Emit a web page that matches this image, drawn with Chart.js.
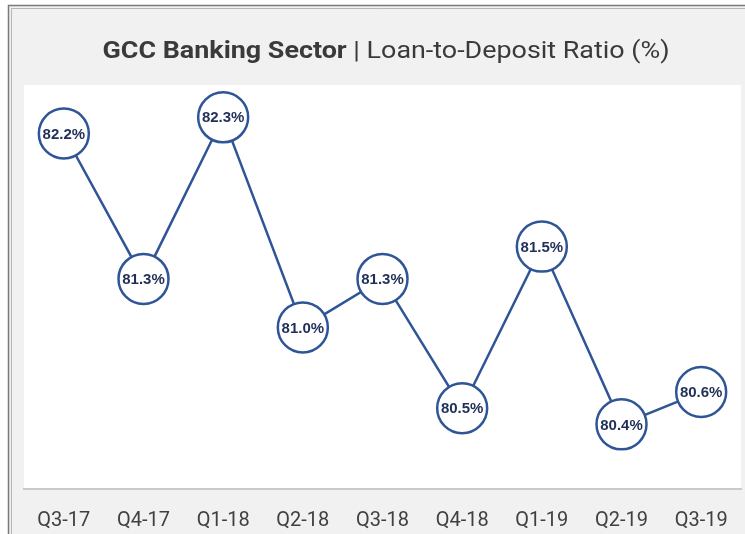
<!DOCTYPE html>
<html>
<head>
<meta charset="utf-8">
<script src="https://cdn.jsdelivr.net/npm/chart.js@4/dist/chart.umd.min.js"></script>
<style>
  html, body { margin: 0; padding: 0; background: #ffffff; }
  #wrap { width: 745px; height: 534px; position: relative; }
</style>
</head>
<body>
<div id="wrap"><canvas id="ldr" width="745" height="534"></canvas></div>
<script>
// Quarterly loan-to-deposit ratio of the GCC banking sector (%)
const quarters = ['Q3-17', 'Q4-17', 'Q1-18', 'Q2-18', 'Q3-18', 'Q4-18', 'Q1-19', 'Q2-19', 'Q3-19'];
const ldrValues = [82.2, 81.3, 82.3, 81.0, 81.3, 80.5, 81.5, 80.4, 80.6];
const titleBold = 'GCC Banking Sector';
const titleRest = ' | Loan-to-Deposit Ratio (%)';

const BLUE = '#2f5597';
const SANS = '"Liberation Sans Narrow", Roboto, sans-serif';

// Panel, frame, mixed-weight title and value labels
const framePlugin = {
  id: 'frame',
  beforeDraw(chart) {
    const { ctx, chartArea: a, width, height } = chart;
    ctx.save();
    ctx.fillStyle = '#ffffff';
    ctx.fillRect(0, 0, width, height);
    ctx.fillStyle = '#f1f1f1';
    ctx.fillRect(9, 6, width - 9, height - 6);
    ctx.strokeStyle = '#7a7a7a';
    ctx.lineWidth = 1.5;
    ctx.beginPath();
    ctx.moveTo(8.5, height); ctx.lineTo(8.5, 5.5); ctx.lineTo(width, 5.5);
    ctx.stroke();
    ctx.strokeStyle = '#b5b5b5';
    ctx.lineWidth = 1;
    ctx.beginPath();
    ctx.moveTo(11.5, height); ctx.lineTo(11.5, 8.5); ctx.lineTo(width, 8.5);
    ctx.stroke();
    // white plotting panel
    ctx.fillStyle = '#ffffff';
    ctx.fillRect(a.left, a.top, a.right - a.left, a.bottom - a.top);
    // title, slightly stretched
    const sx = 1.12;
    ctx.textBaseline = 'middle';
    ctx.textAlign = 'left';
    const fb = 'bold 24px ' + SANS;
    const fr = '24px ' + SANS;
    ctx.font = fb; const wb = ctx.measureText(titleBold).width;
    ctx.font = fr; const wr = ctx.measureText(titleRest).width;
    const total = (wb + wr) * sx;
    ctx.translate(386 - total / 2, 52);
    ctx.scale(sx, 1);
    ctx.fillStyle = '#3a3a3a';
    ctx.font = fb;
    ctx.fillText(titleBold, 0, 0);
    ctx.font = fr;
    ctx.fillText(titleRest, wb, 0);
    ctx.restore();
  },
  afterDatasetsDraw(chart) {
    const { ctx } = chart;
    const meta = chart.getDatasetMeta(0);
    ctx.save();
    ctx.font = 'bold 15px "Liberation Sans", Arial, sans-serif';
    ctx.fillStyle = '#1f2f57';
    ctx.textAlign = 'center';
    ctx.textBaseline = 'middle';
    meta.data.forEach((pt, i) => {
      ctx.fillText(ldrValues[i].toFixed(1) + '%', pt.x, pt.y + 1);
    });
    ctx.restore();
  }
};

new Chart(document.getElementById('ldr'), {
  type: 'line',
  data: {
    labels: quarters,
    datasets: [{
      data: ldrValues,
      borderColor: BLUE,
      borderWidth: 2.5,
      tension: 0,
      pointRadius: 25,
      pointHoverRadius: 25,
      pointBorderWidth: 2.5,
      pointBorderColor: BLUE,
      pointBackgroundColor: '#ffffff',
      clip: false
    }]
  },
  options: {
    responsive: false,
    animation: false,
    events: [],
    layout: { autoPadding: false, padding: { left: 24, right: 4, top: 85, bottom: 0 } },
    plugins: { legend: { display: false }, tooltip: { enabled: false } },
    scales: {
      x: {
        offset: true,
        grid: { display: false, drawTicks: true, tickLength: 20 },
        border: { display: true, color: '#c9c9c9', width: 2 },
        ticks: {
          color: '#404040',
          font: { family: SANS, size: 20 },
          padding: 0,
          maxRotation: 0
        },
        afterFit(scale) { scale.height = 45; }
      },
      y: {
        display: false,
        min: 80,
        max: 82.5
      }
    }
  },
  plugins: [framePlugin]
});
</script>
</body>
</html>
